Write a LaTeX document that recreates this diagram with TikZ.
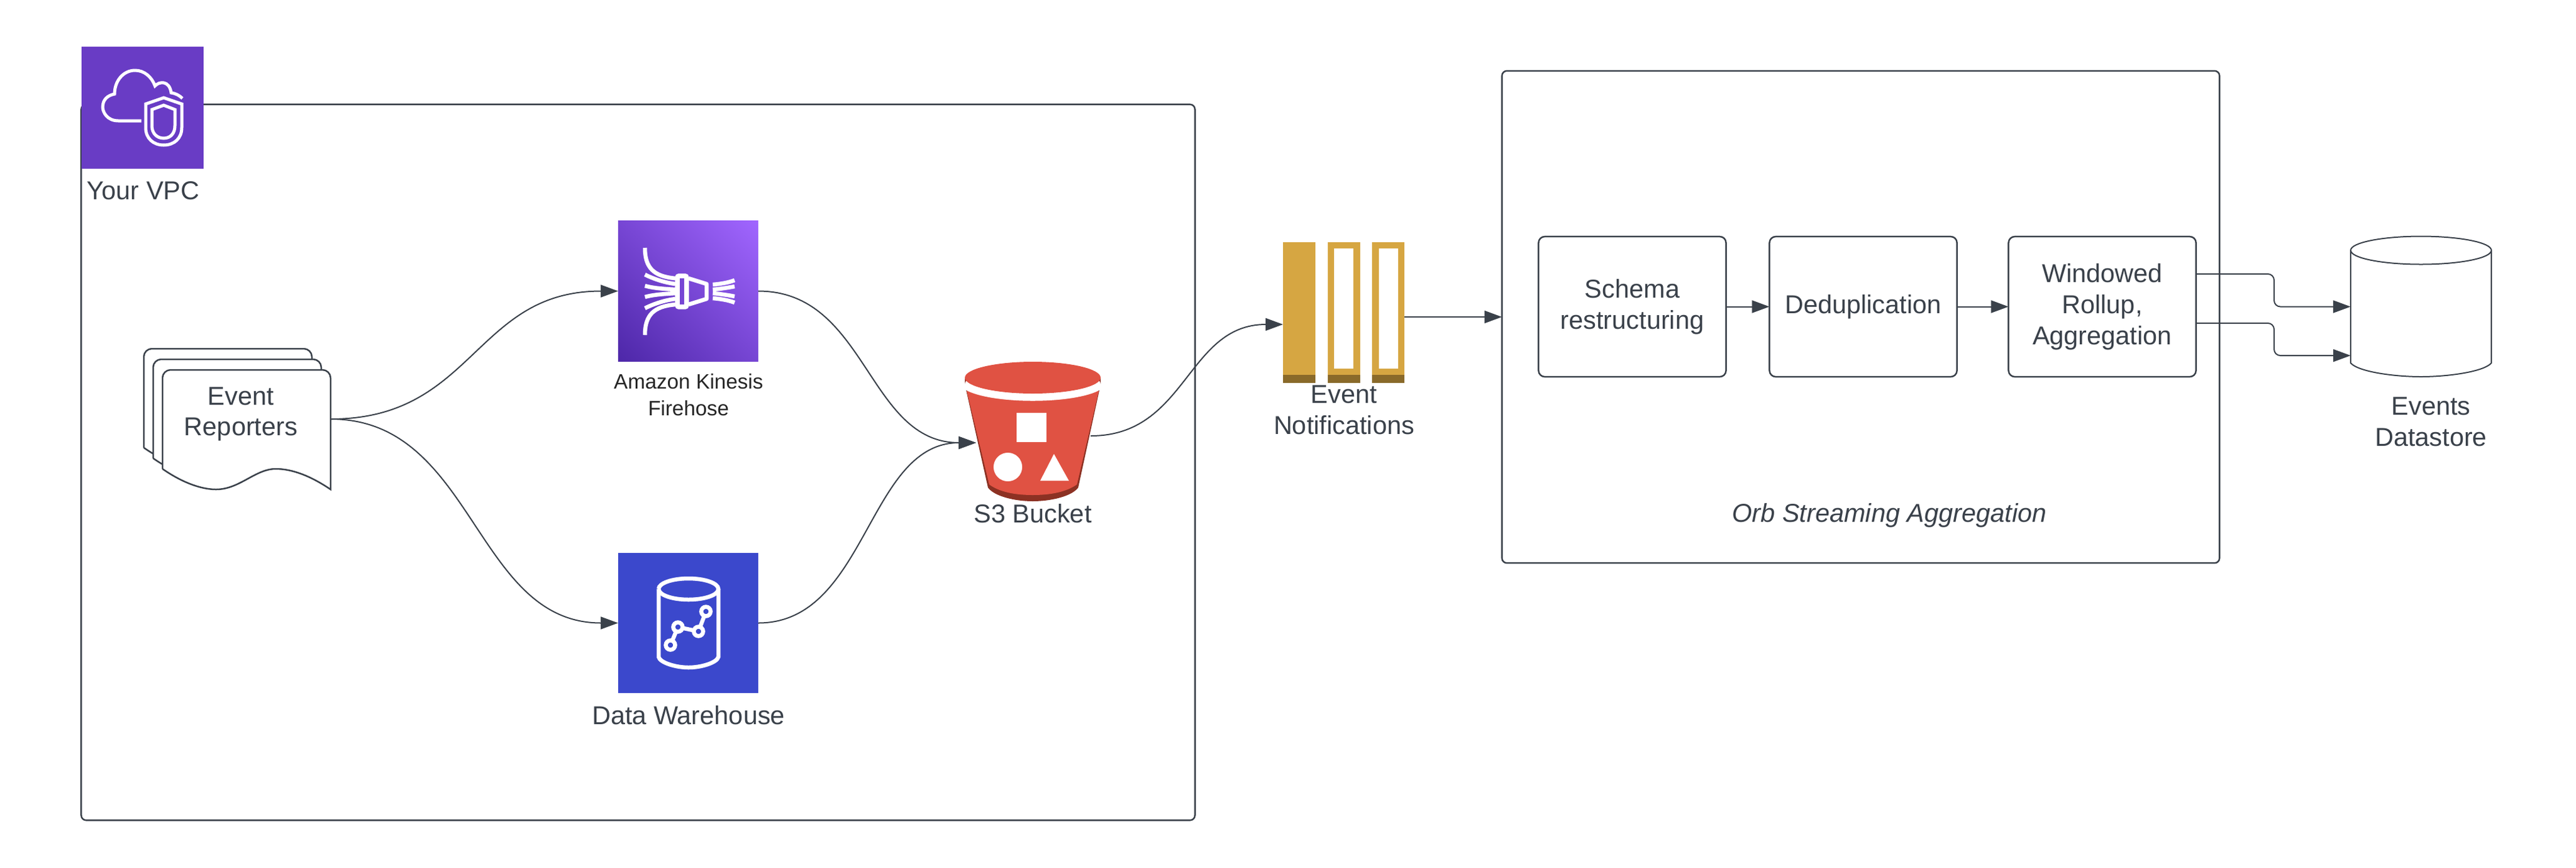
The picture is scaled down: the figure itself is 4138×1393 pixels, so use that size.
\documentclass[tikz,border=0pt]{standalone}
\usepackage{fontspec}
\setmainfont{Liberation Sans}
\usetikzlibrary{arrows.meta,shadings}
\definecolor{inkgrey}{HTML}{3A414A}
\definecolor{vpcpurple}{HTML}{693CC5}
\definecolor{fhlow}{HTML}{4D27A8}
\definecolor{fhmid}{HTML}{7746D4}
\definecolor{fhhigh}{HTML}{A166FF}
\definecolor{dwblue}{HTML}{3B48CC}
\definecolor{s3red}{HTML}{E05243}
\definecolor{s3dark}{HTML}{8C3123}
\definecolor{sqsgold}{HTML}{D6A642}
\definecolor{sqsdark}{HTML}{8A6A2A}
\tikzset{
	lbl/.style={text=inkgrey,inner sep=0pt,outer sep=0pt,align=center,font=\fontsize{11.8}{14.2}\selectfont},
	spot/.style={inner sep=0pt,outer sep=0pt,minimum width=#1},
	stagebox/.style={draw=inkgrey,line width=0.025cm,rounded corners=0.1cm,inner sep=0pt,outer sep=0pt,minimum width=3.01cm,minimum height=2.25cm,text=inkgrey,align=center,font=\fontsize{11.8}{14.2}\selectfont},
	groupbox/.style={draw=inkgrey,line width=0.025cm,rounded corners=0.08cm,inner sep=0pt,outer sep=0pt},
	icon/.style={inner sep=0pt,outer sep=0pt,minimum size=2.25cm},
	link/.style={draw=inkgrey,line width=0.02cm,-{Triangle[length=0.28cm,width=0.2cm]}},
	glyph/.style={draw=white,line width=0.065cm,fill=none},
}
\begin{document}
\begin{tikzpicture}[x=0.01cm,y=-0.01cm]
			\useasboundingbox (0,0) rectangle (4138,1393);
			% groups
			\node[groupbox,minimum width=17.88cm,minimum height=11.49cm] (vpc) at (1025,742.5) {};
			\node[groupbox,minimum width=11.52cm,minimum height=7.9cm] (orb) at (2989,509) {};
			\node[lbl,font=\fontsize{11.8}{14.2}\selectfont\itshape] (orblbl) at (3035,828) {Orb Streaming Aggregation};
			% vpc icon
			\node[icon,fill=vpcpurple,minimum size=1.96cm] (vpcicon) at (229,173) {};
			\draw[glyph,line width=0.05cm] (227,194) -- (190,194) .. controls (172,194) and (165,180) .. (165,172) .. controls (165,160) and (173,153) .. (184,151) .. controls (184,130) and (198,113) .. (217,113) .. controls (232,113) and (244,124) .. (249,138) .. controls (255,131) and (272,128) .. (275,149) .. controls (282,150) and (288,153) .. (293,158);
			\draw[glyph,line width=0.05cm] (263,157) -- (234,167) -- (234,205) .. controls (234,222) and (246,233) .. (263,233) .. controls (280,233) and (292,222) .. (292,205) -- (292,167) -- cycle;
			\draw[glyph,line width=0.05cm] (263,169) -- (244,176) -- (244,202) .. controls (244,214) and (252,222) .. (263,222) .. controls (274,222) and (281,214) .. (281,202) -- (281,176) -- cycle;
			\node[lbl] (vpclbl) at (230,306) {Your VPC};
			% event reporters
			\foreach \d in {2,1,0}{
				\draw[draw=inkgrey,line width=0.025cm,fill=white,shift={(-15*\d,-17*\d)}] (261,753) [rounded corners=0.13cm] -- (261,594) -- (531,594) [sharp corners] -- (531,786) .. controls (500,765) and (470,753) .. (443,753) .. controls (410,753) and (385,786) .. (347,786) .. controls (330,786) and (300,780) .. (261,753);
			}
			\node[spot=2.7cm,minimum height=1.58cm] (report) at (396,673) {};
			\node[lbl] (reportlbl) at (387,665) {Event\\Reporters};
			% firehose
			\node[icon,lower left=fhlow,upper right=fhhigh,upper left=fhmid,lower right=fhmid,shading=bilinear interpolation] (firehose) at (1105.5,467.5) {};
			\foreach \m in {1,-1}{
				\begin{scope}[shift={(0,468)},yscale=\m]
					\draw[glyph] (1036,-70) .. controls (1036,-38) and (1050,-24) .. (1085,-21);
					\draw[glyph] (1036,-27) .. controls (1050,-20) and (1068,-14) .. (1085,-12);
					\draw[glyph] (1036,-9) .. controls (1050,-5) and (1068,-4) .. (1085,-3);
					\draw[glyph] (1145,-11) .. controls (1157,-12) and (1170,-14) .. (1180,-18);
					\draw[glyph] (1145,-3) .. controls (1157,-4) and (1170,-6) .. (1180,-8);
				\end{scope}
			}
			\draw[glyph,line join=round] (1106,447) -- (1135,456) -- (1135,480) -- (1106,489);
			\draw[white,fill=white,rounded corners=0.05cm] (1085,440) rectangle (1106,496);
			\fill[fhmid] (1092,447) rectangle (1099,489);
			\node[lbl,text=black!85,font=\fontsize{9.5}{12}\selectfont] (firehoselbl) at (1106,634) {Amazon Kinesis\\Firehose};
			% warehouse
			\node[icon,fill=dwblue] (warehouse) at (1105.5,1000.5) {};
			\draw[glyph] (1058,946) arc[start angle=180,end angle=540,x radius=48,y radius=17];
			\draw[glyph] (1058,946) -- (1058,1055) .. controls (1060,1064) and (1085,1072) .. (1106,1072) .. controls (1127,1072) and (1152,1064) .. (1154,1055) -- (1154,946);
			\draw[glyph] (1077,1036) -- (1089,1007) -- (1122,1014) -- (1134,982);
			\foreach \px/\py in {1077/1036,1089/1007,1122/1014,1134/982}{
				\draw[glyph,fill=dwblue] (\px,\py) circle (7.5);
			}
			\node[lbl] (warehouselbl) at (1106,1149) {Data Warehouse};
			% bucket
			\fill[s3dark] (1551,622) -- (1587,783) .. controls (1597,797) and (1630,805) .. (1659,805) .. controls (1688,805) and (1722,797) .. (1732,783) -- (1767,622) -- cycle;
			\fill[s3red] (1553,628) -- (1589,778) .. controls (1605,790) and (1630,795) .. (1659,795) .. controls (1688,795) and (1713,790) .. (1730,778) -- (1765,628) -- cycle;
			\fill[white] (1549,610) -- (1549,625) .. controls (1590,650) and (1728,650) .. (1769,625) -- (1769,610) -- cycle;
			\fill[s3dark] (1550,606.5) -- (1550,616.5) arc[start angle=180,end angle=360,x radius=109,y radius=25.5] -- (1768,606.5) -- cycle;
			\fill[s3red] (1659,606.5) ellipse[x radius=109,y radius=25.5];
			\fill[white] (1633,663) rectangle (1681,710);
			\fill[white] (1619,750) circle (23);
			\fill[white] (1693,729) -- (1671,772) -- (1717,772) -- cycle;
			\coordinate (s3in) at (1568,711);
			\coordinate (s3out) at (1752,700);
			\node[lbl] (s3lbl) at (1659,825) {S3 Bucket};
			% queue
			\foreach \qx in {2061,2133,2204}{
				\fill[sqsgold] (\qx,389) rectangle +(52,226);
				\fill[sqsdark] (\qx,602) rectangle +(52,13);
			}
			\fill[white] (2143,399) rectangle (2174,592);
			\fill[white] (2215,399) rectangle (2246,592);
			\coordinate (queuein) at (2061,521);
			\coordinate (queueout) at (2256,509);
			\node[lbl] (queuelbl) at (2159,658) {Event\\Notifications};
			% stages
			\node[stagebox] (schema) at (2622,492.5) {Schema\\restructuring};
			\node[stagebox] (dedup) at (2993,492.5) {Deduplication};
			\node[stagebox] (rollup) at (3377,492.5) {Windowed\\Rollup,\\Aggregation};
			% datastore
			\node[spot=2.26cm,minimum height=2.25cm] (store) at (3889,492.5) {};
			\draw[draw=inkgrey,line width=0.02cm] (3776,402) arc[start angle=180,end angle=540,x radius=113,y radius=22.5];
			\draw[draw=inkgrey,line width=0.02cm] (3776,402) -- (3776,583) .. controls (3788,597) and (3846,605) .. (3889,605) .. controls (3932,605) and (3990,597) .. (4002,583) -- (4002,402);
			\coordinate (storein) at (3776,571);
			\coordinate (rollupouta) at (3529,440);
			\coordinate (rollupoutb) at (3529,519);
			\node[lbl] (storelbl) at (3905,677) {Events\\Datastore};
			% connectors
			\draw[link] (report.east) .. controls +(231,0) and +(-231,0) .. (firehose.west);
			\draw[link] (report.east) .. controls +(231,0) and +(-231,0) .. (warehouse.west);
			\draw[link] (firehose.east) .. controls +(175,0) and +(-175,0) .. (s3in);
			\draw[link] (warehouse.east) .. controls +(175,0) and +(-175,0) .. (s3in);
			\draw[link] (s3out) .. controls +(155,0) and +(-155,0) .. (queuein);
			\draw[link] (queueout) -- (orb.west);
			\draw[link] (schema.east) -- (dedup.west);
			\draw[link] (dedup.east) -- (rollup.west);
			\draw[link,rounded corners=0.1cm] (rollupouta) -- (3653,440) -- (3653,492.5) -- (store.west);
			\draw[link,rounded corners=0.1cm] (rollupoutb) -- (3653,519) -- (3653,571) -- (storein);
\end{tikzpicture}
\end{document}
